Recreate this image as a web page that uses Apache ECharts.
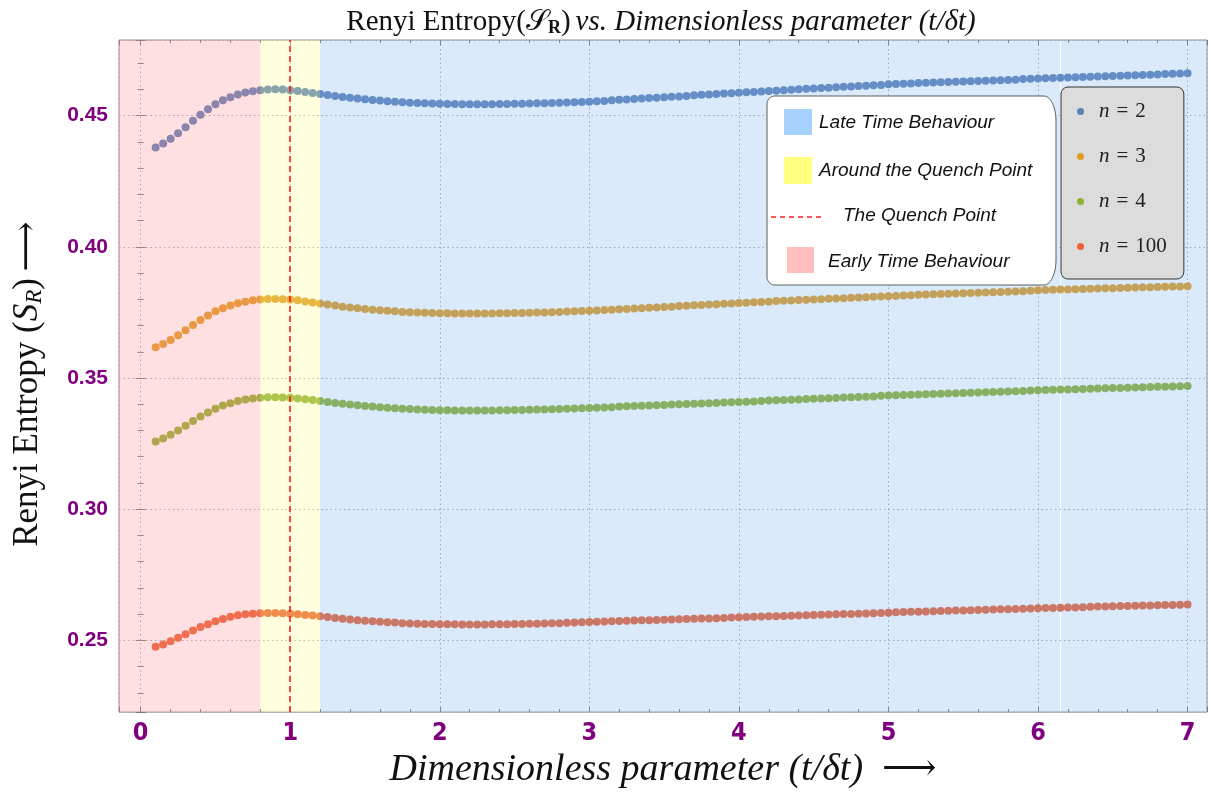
<!DOCTYPE html>
<html>
<head>
<meta charset="utf-8">
<script src="https://cdn.jsdelivr.net/npm/echarts@6/dist/echarts.min.js"></script>
<style>
  html, body { margin: 0; padding: 0; background: #ffffff; }
  #chart { width: 1211px; height: 794px; }
</style>
</head>
<body>
<div id="chart"></div>
<script>
// Sampled times t/δt (step 0.05 from 0.1 to 7.0)
const tGrid = [
  0.10, 0.15, 0.20, 0.25, 0.30, 0.35, 0.40, 0.45, 0.50, 0.55,
  0.60, 0.65, 0.70, 0.75, 0.80, 0.85, 0.90, 0.95, 1.00, 1.05,
  1.10, 1.15, 1.20, 1.25, 1.30, 1.35, 1.40, 1.45, 1.50, 1.55,
  1.60, 1.65, 1.70, 1.75, 1.80, 1.85, 1.90, 1.95, 2.00, 2.05,
  2.10, 2.15, 2.20, 2.25, 2.30, 2.35, 2.40, 2.45, 2.50, 2.55,
  2.60, 2.65, 2.70, 2.75, 2.80, 2.85, 2.90, 2.95, 3.00, 3.05,
  3.10, 3.15, 3.20, 3.25, 3.30, 3.35, 3.40, 3.45, 3.50, 3.55,
  3.60, 3.65, 3.70, 3.75, 3.80, 3.85, 3.90, 3.95, 4.00, 4.05,
  4.10, 4.15, 4.20, 4.25, 4.30, 4.35, 4.40, 4.45, 4.50, 4.55,
  4.60, 4.65, 4.70, 4.75, 4.80, 4.85, 4.90, 4.95, 5.00, 5.05,
  5.10, 5.15, 5.20, 5.25, 5.30, 5.35, 5.40, 5.45, 5.50, 5.55,
  5.60, 5.65, 5.70, 5.75, 5.80, 5.85, 5.90, 5.95, 6.00, 6.05,
  6.10, 6.15, 6.20, 6.25, 6.30, 6.35, 6.40, 6.45, 6.50, 6.55,
  6.60, 6.65, 6.70, 6.75, 6.80, 6.85, 6.90, 6.95, 7.00
];

// Renyi entropy S_R for n = 2
const entropyN2 = [
  0.4378, 0.4394, 0.4412, 0.4433, 0.4456, 0.4480, 0.4503, 0.4524, 0.4543, 0.4558,
  0.4570, 0.4580, 0.4588, 0.4593, 0.4597, 0.4599, 0.4600, 0.4599, 0.4597, 0.4594,
  0.4590, 0.4586, 0.4582, 0.4578, 0.4575, 0.4571, 0.4568, 0.4565, 0.4562, 0.4559,
  0.4557, 0.4555, 0.4553, 0.4551, 0.4549, 0.4548, 0.4547, 0.4546, 0.4545, 0.4544,
  0.4544, 0.4543, 0.4543, 0.4543, 0.4543, 0.4543, 0.4544, 0.4544, 0.4545, 0.4545,
  0.4546, 0.4547, 0.4547, 0.4548, 0.4549, 0.4550, 0.4551, 0.4552, 0.4553, 0.4555,
  0.4556, 0.4558, 0.4560, 0.4561, 0.4563, 0.4565, 0.4567, 0.4568, 0.4570, 0.4572,
  0.4573, 0.4575, 0.4577, 0.4579, 0.4580, 0.4582, 0.4584, 0.4585, 0.4587, 0.4589,
  0.4590, 0.4592, 0.4594, 0.4595, 0.4597, 0.4598, 0.4600, 0.4602, 0.4603, 0.4605,
  0.4606, 0.4608, 0.4610, 0.4611, 0.4613, 0.4614, 0.4616, 0.4617, 0.4619, 0.4620,
  0.4621, 0.4622, 0.4624, 0.4625, 0.4626, 0.4627, 0.4628, 0.4629, 0.4630, 0.4631,
  0.4632, 0.4633, 0.4634, 0.4635, 0.4636, 0.4637, 0.4639, 0.4640, 0.4641, 0.4642,
  0.4643, 0.4644, 0.4645, 0.4646, 0.4647, 0.4648, 0.4649, 0.4650, 0.4651, 0.4652,
  0.4653, 0.4654, 0.4655, 0.4656, 0.4657, 0.4658, 0.4659, 0.4660, 0.4661
];

// Renyi entropy S_R for n = 3
const entropyN3 = [
  0.3617, 0.3630, 0.3645, 0.3663, 0.3682, 0.3702, 0.3721, 0.3738, 0.3754, 0.3766,
  0.3776, 0.3785, 0.3791, 0.3796, 0.3799, 0.3801, 0.3801, 0.3800, 0.3799, 0.3796,
  0.3792, 0.3788, 0.3784, 0.3780, 0.3776, 0.3772, 0.3769, 0.3766, 0.3763, 0.3760,
  0.3758, 0.3756, 0.3754, 0.3752, 0.3751, 0.3750, 0.3749, 0.3748, 0.3747, 0.3747,
  0.3746, 0.3746, 0.3746, 0.3746, 0.3746, 0.3746, 0.3747, 0.3747, 0.3748, 0.3748,
  0.3749, 0.3750, 0.3750, 0.3751, 0.3752, 0.3753, 0.3754, 0.3755, 0.3756, 0.3757,
  0.3759, 0.3760, 0.3762, 0.3763, 0.3765, 0.3766, 0.3768, 0.3769, 0.3771, 0.3772,
  0.3774, 0.3775, 0.3777, 0.3778, 0.3780, 0.3781, 0.3783, 0.3784, 0.3786, 0.3787,
  0.3789, 0.3790, 0.3791, 0.3793, 0.3794, 0.3795, 0.3797, 0.3798, 0.3799, 0.3800,
  0.3802, 0.3803, 0.3804, 0.3806, 0.3807, 0.3808, 0.3810, 0.3811, 0.3812, 0.3813,
  0.3814, 0.3815, 0.3817, 0.3818, 0.3819, 0.3820, 0.3821, 0.3822, 0.3823, 0.3824,
  0.3825, 0.3826, 0.3827, 0.3828, 0.3829, 0.3830, 0.3831, 0.3833, 0.3834, 0.3835,
  0.3836, 0.3837, 0.3837, 0.3838, 0.3839, 0.3840, 0.3841, 0.3842, 0.3842, 0.3843,
  0.3844, 0.3845, 0.3846, 0.3846, 0.3847, 0.3848, 0.3849, 0.3849, 0.3850
];

// Renyi entropy S_R for n = 4
const entropyN4 = [
  0.3258, 0.3270, 0.3284, 0.3300, 0.3318, 0.3336, 0.3353, 0.3369, 0.3383, 0.3395,
  0.3404, 0.3412, 0.3418, 0.3422, 0.3425, 0.3427, 0.3427, 0.3426, 0.3425, 0.3422,
  0.3419, 0.3416, 0.3412, 0.3409, 0.3405, 0.3402, 0.3399, 0.3396, 0.3393, 0.3391,
  0.3389, 0.3387, 0.3385, 0.3383, 0.3382, 0.3380, 0.3379, 0.3378, 0.3377, 0.3377,
  0.3376, 0.3376, 0.3376, 0.3376, 0.3376, 0.3376, 0.3377, 0.3377, 0.3378, 0.3378,
  0.3379, 0.3380, 0.3380, 0.3381, 0.3382, 0.3383, 0.3384, 0.3385, 0.3386, 0.3387,
  0.3388, 0.3389, 0.3391, 0.3392, 0.3393, 0.3394, 0.3395, 0.3396, 0.3397, 0.3399,
  0.3400, 0.3401, 0.3402, 0.3403, 0.3404, 0.3405, 0.3407, 0.3408, 0.3409, 0.3410,
  0.3411, 0.3412, 0.3414, 0.3415, 0.3416, 0.3417, 0.3418, 0.3420, 0.3421, 0.3422,
  0.3423, 0.3424, 0.3426, 0.3427, 0.3428, 0.3429, 0.3430, 0.3432, 0.3433, 0.3434,
  0.3435, 0.3436, 0.3437, 0.3438, 0.3439, 0.3440, 0.3441, 0.3442, 0.3443, 0.3444,
  0.3445, 0.3446, 0.3447, 0.3448, 0.3449, 0.3450, 0.3451, 0.3452, 0.3453, 0.3454,
  0.3455, 0.3456, 0.3456, 0.3457, 0.3458, 0.3459, 0.3460, 0.3461, 0.3462, 0.3462,
  0.3463, 0.3464, 0.3465, 0.3466, 0.3467, 0.3467, 0.3468, 0.3469, 0.3470
];

// Renyi entropy S_R for n = 100
const entropyN100 = [
  0.2476, 0.2485, 0.2497, 0.2510, 0.2524, 0.2538, 0.2551, 0.2562, 0.2573, 0.2582,
  0.2590, 0.2596, 0.2600, 0.2602, 0.2604, 0.2605, 0.2605, 0.2604, 0.2602, 0.2600,
  0.2597, 0.2595, 0.2592, 0.2589, 0.2586, 0.2583, 0.2580, 0.2577, 0.2575, 0.2573,
  0.2571, 0.2569, 0.2568, 0.2566, 0.2565, 0.2564, 0.2563, 0.2563, 0.2562, 0.2562,
  0.2562, 0.2561, 0.2561, 0.2561, 0.2561, 0.2562, 0.2562, 0.2562, 0.2563, 0.2563,
  0.2564, 0.2564, 0.2565, 0.2566, 0.2566, 0.2567, 0.2568, 0.2569, 0.2570, 0.2571,
  0.2572, 0.2573, 0.2574, 0.2575, 0.2576, 0.2577, 0.2577, 0.2578, 0.2579, 0.2580,
  0.2581, 0.2582, 0.2583, 0.2584, 0.2584, 0.2585, 0.2586, 0.2587, 0.2588, 0.2589,
  0.2590, 0.2591, 0.2592, 0.2592, 0.2593, 0.2594, 0.2595, 0.2596, 0.2597, 0.2598,
  0.2599, 0.2600, 0.2601, 0.2601, 0.2602, 0.2603, 0.2604, 0.2605, 0.2606, 0.2607,
  0.2608, 0.2609, 0.2609, 0.2610, 0.2611, 0.2612, 0.2613, 0.2614, 0.2614, 0.2615,
  0.2616, 0.2617, 0.2618, 0.2619, 0.2619, 0.2620, 0.2621, 0.2622, 0.2623, 0.2624,
  0.2624, 0.2625, 0.2626, 0.2626, 0.2627, 0.2628, 0.2629, 0.2629, 0.2630, 0.2631,
  0.2631, 0.2632, 0.2633, 0.2633, 0.2634, 0.2635, 0.2635, 0.2636, 0.2637
];

const seriesNames = ['n = 2', 'n = 3', 'n = 4', 'n = 100'];
const seriesValues = [entropyN2, entropyN3, entropyN4, entropyN100];
const seriesColors = ['#5E81B5', '#E19C24', '#8FB032', '#EB6235'];

// Axis ranges
const xRange = [-0.145, 7.13];
const yRange = [0.2227, 0.4788];

// Time regimes
const quenchPoint = 1.0;
const aroundQuench = [0.8, 1.2];
const lateSeam = [6.147, 6.154];

const regionLegendItems = [
  'Late Time Behaviour',
  'Around the Quench Point',
  'The Quench Point',
  'Early Time Behaviour'
];

const serifFont = '"Liberation Serif", "DejaVu Serif", serif';
const sansFont = '"Liberation Sans", Arial, sans-serif';
const narrowFont = '"Liberation Sans Narrow", "DejaVu Sans Condensed", "Liberation Sans", sans-serif';

// Outline of the regime legend box: small round corners on the left,
// tall elliptical corners on the right.
function roundedBoxPoints(x0, y0, x1, y1, rl, rxr, ryr) {
  const pts = [];
  const arc = (cx, cy, rx, ry, a0, a1) => {
    const steps = 14;
    for (let s = 0; s <= steps; s++) {
      const a = a0 + (a1 - a0) * s / steps;
      pts.push([cx + rx * Math.cos(a), cy + ry * Math.sin(a)]);
    }
  };
  arc(x1 - rxr, y0 + ryr, rxr, ryr, -Math.PI / 2, 0);
  arc(x1 - rxr, y1 - ryr, rxr, ryr, 0, Math.PI / 2);
  arc(x0 + rl, y1 - rl, rl, rl, Math.PI / 2, Math.PI);
  arc(x0 + rl, y0 + rl, rl, rl, Math.PI, Math.PI * 1.5);
  return pts;
}

const chart = echarts.init(document.getElementById('chart'), null, { renderer: 'canvas' });

const pointSeries = seriesNames.map((name, i) => ({
  name: name,
  type: 'scatter',
  symbol: 'circle',
  symbolSize: 8,
  z: 2,
  itemStyle: { color: seriesColors[i], opacity: 1 },
  emphasis: { disabled: true },
  data: tGrid.map((t, k) => [t, seriesValues[i][k]])
}));

// Translucent shading for the three time regimes, laid over the points
const regimeSeries = {
  name: 'regimes',
  type: 'scatter',
  data: [],
  z: 3,
  silent: true,
  markArea: {
    silent: true,
    z: 3,
    data: [
      [{ xAxis: xRange[0], itemStyle: { color: 'rgba(255,145,150,0.28)' } }, { xAxis: aroundQuench[0] }],
      [{ xAxis: aroundQuench[0], itemStyle: { color: 'rgba(255,255,140,0.27)' } }, { xAxis: aroundQuench[1] }],
      [{ xAxis: aroundQuench[1], itemStyle: { color: 'rgba(118,177,240,0.27)' } }, { xAxis: lateSeam[0] }],
      [{ xAxis: lateSeam[1], itemStyle: { color: 'rgba(118,177,240,0.27)' } }, { xAxis: xRange[1] }]
    ]
  }
};

const quenchSeries = {
  name: 'quench',
  type: 'scatter',
  data: [],
  z: 6,
  silent: true,
  markLine: {
    silent: true,
    z: 6,
    symbol: ['none', 'none'],
    label: { show: false },
    lineStyle: { color: '#ff1010', type: [6, 4], width: 1.5 },
    data: [{ xAxis: quenchPoint }]
  }
};

const tickColor = '#7a7a7a';
const gridLine = { show: true, lineStyle: { color: '#a8a8a8', type: [1.5, 3], width: 1 } };

function frameAxis(extra) {
  return Object.assign({
    type: 'value',
    axisLine: { show: false },
    axisTick: { show: true, inside: true, length: 5, lineStyle: { color: tickColor, width: 1 } },
    minorTick: { show: true, splitNumber: 5, length: 3, lineStyle: { color: tickColor, width: 1 } },
    splitLine: { show: false },
    axisLabel: { show: false }
  }, extra);
}

const purpleLabel = {
  show: true,
  color: '#800080',
  fontWeight: 'bold',
  showMinLabel: false,
  showMaxLabel: false
};

const legendText = { font: 'italic 19px ' + sansFont, fill: '#111', verticalAlign: 'middle', textVerticalAlign: 'middle' };
const onTop = 100;

const option = {
  animation: false,
  backgroundColor: '#ffffff',
  title: {
    left: 656,
    textAlign: 'center',
    top: 2,
    text: '{r|Renyi Entropy(}{s|𝒮}{b|R}{r|)} {i|vs. Dimensionless parameter (t/δt)}',
    textStyle: {
      fontWeight: 'normal',
      rich: {
        r: { fontFamily: serifFont, fontSize: 29, color: '#111', fontWeight: 'normal' },
        s: { fontFamily: serifFont, fontSize: 29, color: '#111', fontWeight: 'normal' },
        b: { fontFamily: serifFont, fontSize: 18, color: '#111', fontWeight: 'bold', padding: [12, 0, 0, 0] },
        i: { fontFamily: serifFont, fontSize: 29, color: '#111', fontStyle: 'italic', fontWeight: 'normal' }
      }
    }
  },
  grid: {
    left: 119, right: 4, top: 40, bottom: 81,
    show: true, borderColor: '#8a8a8a', borderWidth: 1, backgroundColor: '#ffffff'
  },
  legend: {
    data: seriesNames,
    orient: 'vertical',
    left: 1061,
    top: 87,
    icon: 'circle',
    itemWidth: 7,
    itemHeight: 7,
    itemGap: 24,
    padding: [14, 17, 22, 16],
    backgroundColor: '#dcdcdc',
    borderColor: '#333333',
    borderWidth: 1,
    borderRadius: 7,
    selectedMode: false,
    formatter: name => '{n|n}{t|\u2004=\u2004' + name.split('= ')[1] + '}',
    textStyle: {
      padding: [0, 0, 0, 10],
      rich: {
        n: { fontFamily: serifFont, fontSize: 21, fontStyle: 'italic', color: '#222', lineHeight: 20 },
        t: { fontFamily: serifFont, fontSize: 21, color: '#222', lineHeight: 20 }
      }
    }
  },
  xAxis: [
    frameAxis({
      min: xRange[0], max: xRange[1], splitNumber: 7,
      splitLine: gridLine,
      axisLabel: Object.assign({}, purpleLabel, { margin: 9, fontFamily: narrowFont, fontSize: 25 }),
      name: 'Dimensionless parameter (t/δt)  ⟶',
      nameLocation: 'middle',
      nameGap: 37,
      nameTextStyle: { fontFamily: serifFont, fontStyle: 'italic', fontSize: 38, color: '#111', verticalAlign: 'top' }
    }),
    frameAxis({ min: xRange[0], max: xRange[1], splitNumber: 7, position: 'top' })
  ],
  yAxis: [
    frameAxis({
      min: yRange[0], max: yRange[1], splitNumber: 5,
      splitLine: gridLine,
      axisLabel: Object.assign({}, purpleLabel, { margin: 11, fontFamily: sansFont, fontSize: 21, formatter: v => v.toFixed(2) }),
      name: '{r|Renyi Entropy (}{s|S}{sub|R}{r|)}  {r|⟶}',
      nameLocation: 'middle',
      nameRotate: 90,
      nameGap: 73,
      nameTextStyle: {
        padding: [0, 16, 0, 0],
        rich: {
          r: { fontFamily: serifFont, fontSize: 35, color: '#111' },
          s: { fontFamily: serifFont, fontSize: 35, color: '#111', fontStyle: 'italic' },
          sub: { fontFamily: serifFont, fontSize: 23, color: '#111', fontStyle: 'italic', padding: [14, 0, 0, 0] }
        }
      }
    }),
    frameAxis({ min: yRange[0], max: yRange[1], splitNumber: 5, position: 'right' })
  ],
  series: pointSeries.concat([regimeSeries, quenchSeries]),
  graphic: [
    {
      type: 'polygon',
      z: onTop,
      shape: { points: roundedBoxPoints(767, 96, 1056, 285, 8, 12, 25) },
      style: { fill: '#ffffff', stroke: '#5a5a5a', lineWidth: 1 }
    },
    { type: 'rect', z: onTop + 1, shape: { x: 784, y: 109, width: 28, height: 26 }, style: { fill: '#a6d1fc' } },
    { type: 'rect', z: onTop + 1, shape: { x: 784, y: 157, width: 28, height: 27 }, style: { fill: '#ffff80' } },
    { type: 'line', z: onTop + 1, shape: { x1: 771, y1: 217, x2: 822, y2: 217 }, style: { stroke: '#ff2020', lineWidth: 1.5, lineDash: [5, 4] } },
    { type: 'rect', z: onTop + 1, shape: { x: 787, y: 247, width: 27, height: 26 }, style: { fill: '#ffbfbf' } },
    { type: 'text', z: onTop + 1, style: Object.assign({ x: 819, y: 123, text: regionLegendItems[0] }, legendText) },
    { type: 'text', z: onTop + 1, style: Object.assign({ x: 819, y: 171, text: regionLegendItems[1] }, legendText) },
    { type: 'text', z: onTop + 1, style: Object.assign({ x: 843, y: 216, text: regionLegendItems[2] }, legendText) },
    { type: 'text', z: onTop + 1, style: Object.assign({ x: 828, y: 262, text: regionLegendItems[3] }, legendText) }
  ]
};

chart.setOption(option);
</script>
</body>
</html>
